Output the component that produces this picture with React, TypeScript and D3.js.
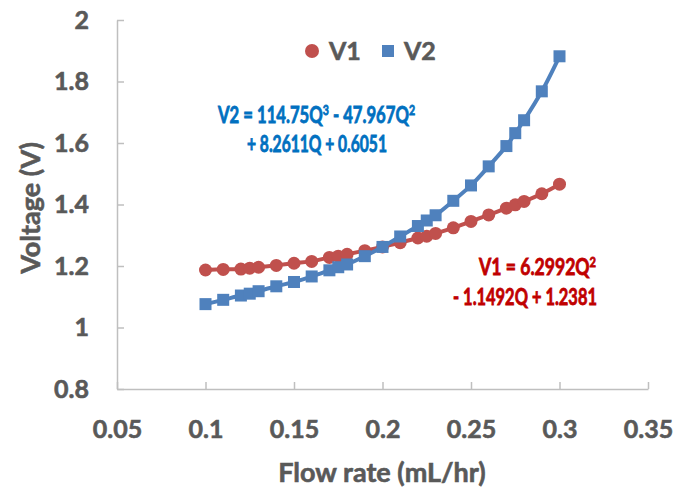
import React from "react";
import * as d3 from "d3";

// flow rate (mL/hr)
const flowRates = [0.1, 0.11, 0.12, 0.125, 0.13, 0.14, 0.15, 0.16, 0.17, 0.175, 0.18, 0.19, 0.2,
  0.21, 0.22, 0.225, 0.23, 0.24, 0.25, 0.26, 0.27, 0.275, 0.28, 0.29, 0.3];
// voltage (V)
const v1Values = [1.187, 1.189, 1.19, 1.193, 1.196, 1.202, 1.209, 1.215, 1.228, 1.232, 1.238, 1.25, 1.262,
  1.276, 1.291, 1.297, 1.306, 1.324, 1.345, 1.366, 1.388, 1.399, 1.41, 1.435, 1.466];
const v2Values = [1.076, 1.09, 1.104, 1.11, 1.118, 1.134, 1.148, 1.166, 1.186, 1.196, 1.205, 1.232, 1.262,
  1.296, 1.33, 1.348, 1.365, 1.412, 1.462, 1.524, 1.59, 1.632, 1.674, 1.768, 1.882];

const xTicks = [0.05, 0.1, 0.15, 0.2, 0.25, 0.3, 0.35];
const yTicks = [0.8, 1, 1.2, 1.4, 1.6, 1.8, 2];

const W = 679;
const H = 492;
const margin = { top: 20, right: 31, bottom: 103, left: 117 };

const FONT = "Lato, 'Open Sans', sans-serif";
const GREY = "#595959";
const RED = "#C0504D";
const BLUE = "#4F81BD";

export default function App() {
  const svgRef = React.useRef<SVGSVGElement>(null);

  React.useEffect(() => {
    const x = d3.scaleLinear().domain([0.05, 0.35]).range([margin.left, W - margin.right]);
    const y = d3.scaleLinear().domain([0.8, 2]).range([H - margin.bottom, margin.top]);

    const svg = d3.select(svgRef.current);
    svg.selectAll("*").remove();

    // axes, ticks pointing inward
    const xAxis = svg.append("g").attr("transform", `translate(0,${y(0.8)})`)
      .call(d3.axisBottom(x).tickValues(xTicks).tickSizeInner(-7).tickSizeOuter(0).tickPadding(31)
        .tickFormat((d) => String(+d)));
    const yAxis = svg.append("g").attr("transform", `translate(${x(0.05)},0)`)
      .call(d3.axisLeft(y).tickValues(yTicks).tickSizeInner(-7).tickSizeOuter(0).tickPadding(28)
        .tickFormat((d) => String(+d)));
    [xAxis, yAxis].forEach((g) => {
      g.selectAll("path, line").attr("stroke", "#BFBFBF").attr("stroke-width", 1.5);
      g.selectAll("text").attr("fill", GREY).attr("stroke", GREY).attr("stroke-width", 0.6)
        .style("font-family", FONT).style("font-weight", "bold").style("font-size", "25px");
    });

    const series = [
      { name: "V1", values: v1Values, color: RED, shape: "circle" },
      { name: "V2", values: v2Values, color: BLUE, shape: "square" },
    ];

    const line = d3.line<number>()
      .x((_, i) => x(flowRates[i]))
      .y((d) => y(d))
      .curve(d3.curveCatmullRom);

    series.forEach((s) => {
      const g = svg.append("g");
      g.append("path").attr("d", line(s.values)).attr("fill", "none")
        .attr("stroke", s.color).attr("stroke-width", 4);
      if (s.shape === "circle") {
        g.selectAll("circle").data(s.values).enter().append("circle")
          .attr("cx", (_, i) => x(flowRates[i])).attr("cy", (d) => y(d))
          .attr("r", 6.5).attr("fill", s.color);
      } else {
        g.selectAll("rect").data(s.values).enter().append("rect")
          .attr("x", (_, i) => x(flowRates[i]) - 6).attr("y", (d) => y(d) - 6)
          .attr("width", 12).attr("height", 12).attr("fill", s.color);
      }
    });

    // legend
    const lg = svg.append("g").style("font-family", FONT).style("font-weight", "bold")
      .style("font-size", "25px").attr("fill", GREY).attr("stroke", GREY).attr("stroke-width", 0.6);
    lg.append("circle").attr("cx", 312).attr("cy", 51).attr("r", 7).attr("fill", RED).attr("stroke", "none");
    lg.append("text").attr("x", 329).attr("y", 60).text("V1");
    lg.append("rect").attr("x", 382).attr("y", 45).attr("width", 12).attr("height", 12)
      .attr("fill", BLUE).attr("stroke", "none");
    lg.append("text").attr("x", 404).attr("y", 60).text("V2");

    // trendline equations, squeezed to the narrow width of the original face
    const eq = svg.append("g").style("font-family", FONT).style("font-weight", "bold").style("font-size", "22px");
    const fit = (t: any, left: number, baseline: number, width: number) => {
      const w = (t.node() as SVGTextElement).getBBox().width;
      t.attr("transform", `translate(${left},${baseline}) scale(${width / w},1)`);
    };
    const sup = (t: any, s: string) => {
      t.append("tspan").attr("dy", -8).style("font-size", "14px").text(s);
      return t;
    };

    const b1 = eq.append("text").attr("fill", "#0070C0").attr("stroke", "#0070C0").attr("stroke-width", 0.8);
    b1.append("tspan").text("V2 = 114.75Q");
    sup(b1, "3");
    b1.append("tspan").attr("dy", 8).text(" - 47.967Q");
    sup(b1, "2");
    fit(b1, 218, 123, 198);
    const b2 = eq.append("text").attr("fill", "#0070C0").attr("stroke", "#0070C0").attr("stroke-width", 0.8)
      .text("+ 8.2611Q + 0.6051");
    fit(b2, 247, 152, 140);

    const r1 = eq.append("text").attr("fill", "#C00000").attr("stroke", "#C00000").attr("stroke-width", 0.8);
    r1.append("tspan").text("V1 = 6.2992Q");
    sup(r1, "2");
    fit(r1, 479, 275, 118);
    const r2 = eq.append("text").attr("fill", "#C00000").attr("stroke", "#C00000").attr("stroke-width", 0.8)
      .text("- 1.1492Q + 1.2381");
    fit(r2, 453, 305, 144);

    // axis titles
    svg.append("text").attr("x", 382).attr("y", 482).attr("text-anchor", "middle")
      .style("font-family", FONT).style("font-weight", "bold").style("font-size", "27px")
      .attr("fill", GREY).attr("stroke", GREY).attr("stroke-width", 0.6).text("Flow rate (mL/hr)");
    svg.append("text").attr("transform", "translate(40,208) rotate(-90)").attr("text-anchor", "middle")
      .style("font-family", FONT).style("font-weight", "bold").style("font-size", "27px")
      .attr("fill", GREY).attr("stroke", GREY).attr("stroke-width", 0.6).text("Voltage (V)");
  }, []);

  return (
    <svg ref={svgRef} width={W} height={H}
      style={{ position: "absolute", left: 0, top: 0, background: "#fff" }} />
  );
}
